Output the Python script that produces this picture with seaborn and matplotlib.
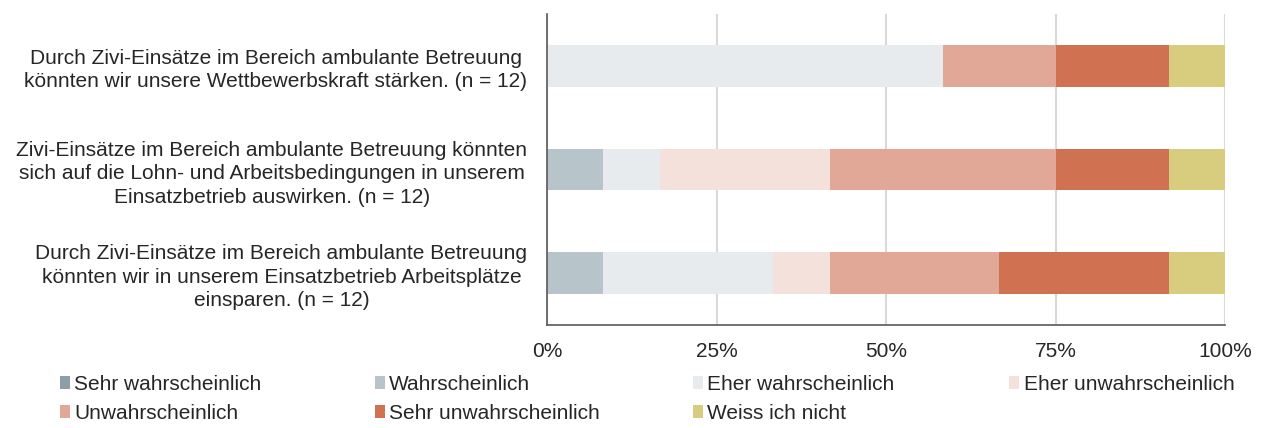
import numpy as np
import pandas as pd
import matplotlib
matplotlib.use("Agg")
import matplotlib.pyplot as plt
import seaborn as sns
from matplotlib.patches import Patch

# ---- Daten (Anzahl Antworten, n = 12 pro Aussage) ----
statements = [
    "Durch Zivi-Einsätze im Bereich ambulante Betreuung\nkönnten wir unsere Wettbewerbskraft stärken. (n = 12)",
    "Zivi-Einsätze im Bereich ambulante Betreuung könnten\nsich auf die Lohn- und Arbeitsbedingungen in unserem\nEinsatzbetrieb auswirken. (n = 12)",
    "Durch Zivi-Einsätze im Bereich ambulante Betreuung\nkönnten wir in unserem Einsatzbetrieb Arbeitsplätze\neinsparen. (n = 12)",
]
categories = [
    "Sehr wahrscheinlich",
    "Wahrscheinlich",
    "Eher wahrscheinlich",
    "Eher unwahrscheinlich",
    "Unwahrscheinlich",
    "Sehr unwahrscheinlich",
    "Weiss ich nicht",
]
counts_1 = [0, 0, 7, 0, 2, 2, 1]
counts_2 = [0, 1, 1, 3, 4, 2, 1]
counts_3 = [0, 1, 3, 1, 3, 3, 1]
n_total = 12
colors = ["#8c9ea8", "#b7c4c9", "#e7ebed", "#f4e1dc", "#e2a897", "#d07152", "#d8cd7f"]
x_ticks = [0, 25, 50, 75, 100]

sns.set_style("white")
plt.rcParams["font.family"] = ["Liberation Sans", "DejaVu Sans"]
FS = 15

df = pd.DataFrame([counts_1, counts_2, counts_3], columns=categories)
df.insert(0, "statement", statements)
pct = df[categories] / n_total * 100
cum = pct.cumsum(axis=1)

fig, ax = plt.subplots(figsize=(12.66, 4.28), dpi=100)
fig.subplots_adjust(left=0.432, right=0.968, top=0.967, bottom=0.241)

# gestapelte Balken: von hinten (kumuliert) nach vorne zeichnen
for cat, col in reversed(list(zip(categories, colors))):
    sns.barplot(x=cum[cat], y=df["statement"], orient="h", color=col,
                saturation=1, width=0.4, linewidth=0, ax=ax)

ax.set_xlim(0, 100)
ax.set_ylim(2.5, -0.5)
ax.set_xticks(x_ticks)
ax.set_xticklabels([f"{t}%" for t in x_ticks], fontsize=FS)
ax.set_xlabel("")
ax.set_ylabel("")
ax.grid(axis="x", color="#d9d9d9", linewidth=1.5)
ax.set_axisbelow(True)

ax.set_yticks(range(len(statements)))
ax.set_yticklabels(statements, fontsize=FS, ma="center", linespacing=1.3)
ax.set_yticks([-0.5, 0.5, 1.5, 2.5], minor=True)
ax.tick_params(axis="y", which="major", length=0, pad=14)
ax.tick_params(axis="y", which="minor", length=5, color="#595959", direction="out")
ax.tick_params(axis="x", length=5, color="#595959", direction="out", pad=7)

for s in ["top", "right"]:
    ax.spines[s].set_visible(False)
for s in ["left", "bottom"]:
    ax.spines[s].set_color("#595959")
    ax.spines[s].set_linewidth(1.2)

# Legende: 4 Spalten, jede Spalte als eigene Legende
col_x = [0.047, 0.296, 0.547, 0.797]
for i, x0 in enumerate(col_x):
    idx = [j for j in (i, i + 4) if j < len(categories)]
    handles = [Patch(facecolor=colors[j], edgecolor="none") for j in idx]
    fig.legend(handles, [categories[j] for j in idx], loc="upper left",
               bbox_to_anchor=(x0, 0.125), frameon=False, fontsize=FS,
               handlelength=0.5, handleheight=0.6, handletextpad=0.2,
               labelspacing=0.5, borderaxespad=0, borderpad=0)

fig.savefig("out.png", dpi=100)
